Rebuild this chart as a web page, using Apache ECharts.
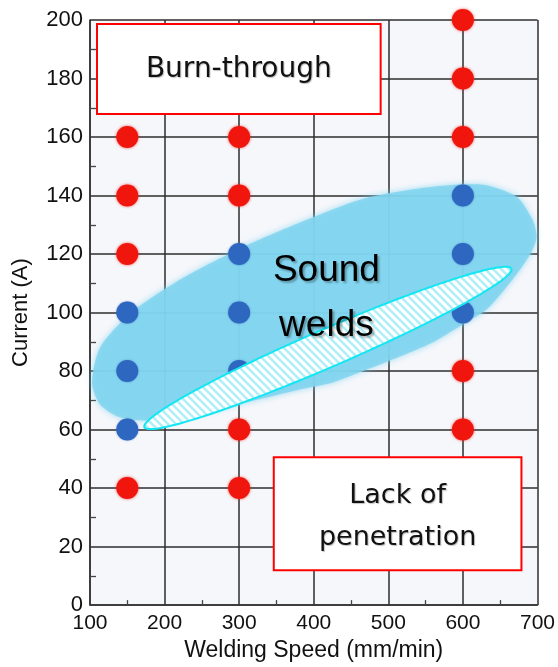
<!DOCTYPE html>
<html>
<head>
<meta charset="utf-8">
<script src="https://cdn.jsdelivr.net/npm/echarts@6/dist/echarts.min.js"></script>
<style>
html,body{margin:0;padding:0;background:#fff;}
#chart{width:558px;height:667px;}
</style>
</head>
<body>
<div id="chart"></div>
<script>
// ---- Data ----
const xTicks = [100, 200, 300, 400, 500, 600, 700];
const yTicks = [0, 20, 40, 60, 80, 100, 120, 140, 160, 180, 200];
const redSpeed   = [150, 150, 150, 150, 300, 300, 300, 300, 600, 600, 600, 600, 600];
const redCurrent = [160, 140, 120, 40, 160, 140, 60, 40, 200, 180, 160, 80, 60];
const blueSpeed   = [150, 150, 150, 300, 300, 300, 600, 600, 600];
const blueCurrent = [100, 80, 60, 120, 100, 80, 140, 120, 100];
const xName = 'Welding Speed (mm/min)';
const yName = 'Current (A)';
// "Sound welds" region outline (speed, current)
const soundSpeed   = [102.7, 113.4, 153.6, 220.5, 310.3, 398.7, 471.0, 559.4, 626.3, 671.9, 693.3, 698.7, 689.3, 666.5, 631.7, 599.6, 559.4, 515.2, 471.0, 425.4, 381.2, 314.3, 247.3, 180.4, 140.2, 113.4];
const soundCurrent = [76.1, 88.0, 99.6, 111.2, 123.0, 132.5, 139.2, 143.0, 143.7, 139.6, 131.7, 125.6, 119.5, 111.3, 101.0, 95.9, 89.8, 85.0, 80.5, 76.1, 73.7, 69.6, 65.5, 63.1, 64.2, 68.6];
// striped region (thin ellipse): centre, tip, width ratio
const stripeCenter = [419, 87.9];
const stripeEnd = [665, 115.0];
const stripeRatio = 0.095;
const burnBox = [[109.4, 198.6], [489.7, 167.9]];
const lackBox = [[346.4, 50.5], [678.5, 11.9]];
const soundLabelAt = [417, 103.7];

const chart = echarts.init(document.getElementById('chart'), null, {renderer: 'canvas'});

// stripe pattern
const pat = document.createElement('canvas');
pat.width = 8; pat.height = 8;
(function(){
  const c = pat.getContext('2d');
  c.fillStyle = '#ffffff'; c.fillRect(0,0,8,8);
  c.strokeStyle = '#b0eff8'; c.lineWidth = 2.6;
  for (let k = -1; k <= 1; k++) {
    c.beginPath(); c.moveTo(k*8 - 2, -2); c.lineTo(k*8 + 10, 10); c.stroke();
  }
})();

function ellipseItem(center, end, ratio, style) {
  return function (params, api) {
    const c = api.coord(center);
    const e = api.coord(end);
    const dx = e[0] - c[0], dy = e[1] - c[1];
    const a = Math.sqrt(dx*dx + dy*dy);
    const b = a * ratio;
    const ang = Math.atan2(dy, dx);
    const pts = [];
    for (let i = 0; i < 180; i++) {
      const t = i / 180 * Math.PI * 2;
      const px = a * Math.cos(t), py = b * Math.sin(t);
      pts.push([c[0] + px*Math.cos(ang) - py*Math.sin(ang), c[1] + px*Math.sin(ang) + py*Math.cos(ang)]);
    }
    return {type: 'polygon', shape: {points: pts}, style: style};
  };
}

const dotsRed = redSpeed.map((s, i) => [s, redCurrent[i]]);
const dotsBlue = blueSpeed.map((s, i) => [s, blueCurrent[i]]);

chart.setOption({
  animation: false,
  backgroundColor: '#ffffff',
  grid: {left: 90, right: 20, top: 20, bottom: 61, show: true, backgroundColor: '#f6f7fb', borderWidth: 0},
  xAxis: {
    type: 'value', min: xTicks[0], max: xTicks[xTicks.length-1], interval: 100,
    name: xName, nameLocation: 'middle', nameGap: 33,
    nameTextStyle: {fontFamily: 'Liberation Sans', fontSize: 23, color: '#111'},
    axisLine: {show: true, lineStyle: {color: '#333', width: 1.5}},
    axisTick: {show: false, inside: true},
    minorTick: {show: true, splitNumber: 2, length: 5, lineStyle: {color: '#444', width: 1.3}},
    axisLabel: {fontFamily: 'Liberation Sans', fontSize: 21, color: '#111', margin: 8},
    splitLine: {show: true, lineStyle: {color: '#2e2e2e', width: 1.5}}
  },
  yAxis: {
    type: 'value', min: yTicks[0], max: yTicks[yTicks.length-1], interval: 20,
    name: yName, nameLocation: 'middle', nameGap: 58,
    nameTextStyle: {fontFamily: 'Liberation Sans', fontSize: 22, color: '#111'},
    axisLine: {show: true, lineStyle: {color: '#333', width: 1.5}},
    axisTick: {show: false, inside: true},
    minorTick: {show: true, splitNumber: 2, length: 6, lineStyle: {color: '#444', width: 1.3}},
    axisLabel: {fontFamily: 'Liberation Sans', fontSize: 22, color: '#111', margin: 7},
    splitLine: {show: true, lineStyle: {color: '#2e2e2e', width: 1.5}}
  },
  series: [
    {
      type: 'custom', z: 1, silent: true, clip: false,
      data: [[soundSpeed[0], soundCurrent[0]]],
      renderItem: function (params, api) {
        const pts = soundSpeed.map((s, i) => api.coord([s, soundCurrent[i]]));
        return {type: 'polygon', shape: {points: pts, smooth: 0.25},
          style: {fill: 'rgba(128,212,239,0.85)', shadowBlur: 6, shadowColor: 'rgba(128,212,239,0.9)'}};
      }
    },
    {
      type: 'scatter', z: 3, symbolSize: 22, data: dotsRed,
      itemStyle: {color: '#f0160e', opacity: 1, shadowBlur: 3, shadowColor: 'rgba(240,30,20,0.7)'}
    },
    {
      type: 'scatter', z: 3, symbolSize: 22, data: dotsBlue,
      itemStyle: {color: '#2e67c0', opacity: 1, shadowBlur: 2, shadowColor: 'rgba(46,103,192,0.6)'}
    },
    {
      type: 'custom', z: 4, silent: true, clip: false,
      data: [[stripeCenter[0], stripeCenter[1]]],
      renderItem: ellipseItem(stripeCenter, stripeEnd, stripeRatio,
        {fill: {image: pat, repeat: 'repeat'}, stroke: '#14e6f2', lineWidth: 2})
    }
  ]
});

function px(p) { return chart.convertToPixel({gridIndex: 0}, p); }
const b1 = px(burnBox[0]), b2 = px(burnBox[1]);
const l1 = px(lackBox[0]), l2 = px(lackBox[1]);
const sc = px(soundLabelAt);
const boxText = {fontFamily: 'DejaVu Sans', fontSize: 27, fill: '#111',
  textShadowColor: 'rgba(0,0,0,0.25)', textShadowOffsetX: 1, textShadowOffsetY: 1, textShadowBlur: 1};
const bigText = {fontFamily: 'Liberation Sans', fontSize: 37, fill: '#000',
  textShadowColor: 'rgba(0,0,0,0.3)', textShadowOffsetX: 2, textShadowOffsetY: 2, textShadowBlur: 2};

chart.setOption({
  graphic: [
    {type: 'rect', z: 100, shape: {x: b1[0], y: b1[1], width: b2[0]-b1[0], height: b2[1]-b1[1]},
      style: {fill: '#fff', stroke: '#ff0000', lineWidth: 2}},
    {type: 'text', z: 101, x: (b1[0]+b2[0])/2, y: (b1[1]+b2[1])/2 + 1,
      style: Object.assign({text: 'Burn-through', align: 'center', verticalAlign: 'middle'}, boxText, {fontSize: 28})},
    {type: 'rect', z: 100, shape: {x: l1[0], y: l1[1], width: l2[0]-l1[0], height: l2[1]-l1[1]},
      style: {fill: '#fff', stroke: '#ff0000', lineWidth: 2}},
    {type: 'text', z: 101, x: (l1[0]+l2[0])/2, y: (l1[1]+l2[1])/2 - 18,
      style: Object.assign({text: 'Lack of', align: 'center', verticalAlign: 'middle'}, boxText)},
    {type: 'text', z: 101, x: (l1[0]+l2[0])/2, y: (l1[1]+l2[1])/2 + 24,
      style: Object.assign({text: 'penetration', align: 'center', verticalAlign: 'middle'}, boxText)},
    {type: 'text', z: 102, x: sc[0], y: sc[1] - 31,
      style: Object.assign({text: 'Sound', align: 'center', verticalAlign: 'middle'}, bigText)},
    {type: 'text', z: 102, x: sc[0], y: sc[1] + 24,
      style: Object.assign({text: 'welds', align: 'center', verticalAlign: 'middle'}, bigText)}
  ]
});
</script>
</body>
</html>
